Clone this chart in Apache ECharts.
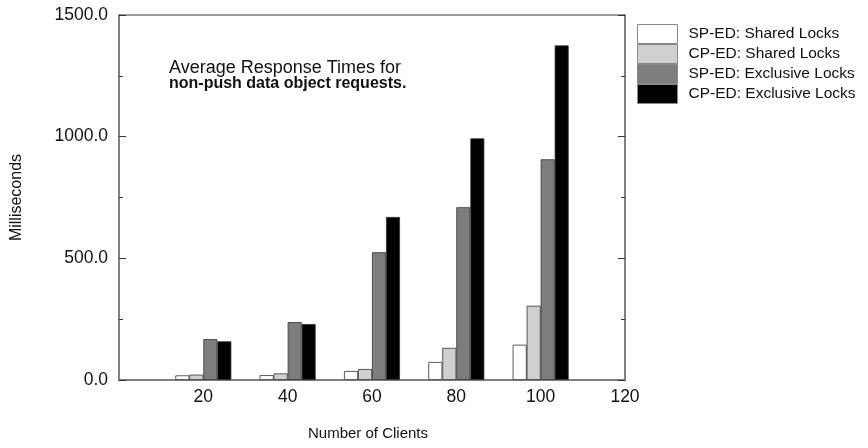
<!DOCTYPE html>
<html>
<head>
<meta charset="utf-8">
<script src="https://cdn.jsdelivr.net/npm/echarts@6/dist/echarts.min.js"></script>
<style>
  html, body { margin: 0; padding: 0; background: #fff; }
  #chart { width: 868px; height: 448px; }
</style>
</head>
<body>
<div id="chart"></div>
<script>
// Number of clients (x positions of the bar groups)
const clients = [20, 40, 60, 80, 100];

// Average response times in milliseconds
const spSharedLocks    = [19, 20, 37, 74, 145];
const cpSharedLocks    = [22, 27, 45, 132, 305];
const spExclusiveLocks = [168, 238, 525, 710, 907];
const cpExclusiveLocks = [159, 230, 670, 993, 1375];

const seriesNames = [
  'SP-ED: Shared Locks',
  'CP-ED: Shared Locks',
  'SP-ED: Exclusive Locks',
  'CP-ED: Exclusive Locks'
];
const seriesColors = ['#ffffff', '#d0d0d0', '#7d7d7d', '#000000'];
const seriesValues = [spSharedLocks, cpSharedLocks, spExclusiveLocks, cpExclusiveLocks];

const FONT = 'Liberation Sans, Arial, Helvetica, sans-serif';
const AXIS_COLOR = '#7a7a7a';

const chart = echarts.init(document.getElementById('chart'), null, { renderer: 'canvas' });

const series = seriesValues.map((vals, i) => ({
  name: seriesNames[i],
  type: 'bar',
  barWidth: 14,
  barGap: '0%',
  itemStyle: { color: seriesColors[i], borderColor: '#333', borderWidth: 0.8 },
  data: clients.map((c, j) => [c, vals[j]])
}));

const yAxisBase = {
  type: 'value',
  min: 0,
  max: 1500,
  interval: 500,
  splitLine: { show: false },
  axisLine: { show: true, lineStyle: { color: AXIS_COLOR, width: 1.5 } },
  axisTick: { show: true, inside: true, length: 7, lineStyle: { color: '#333', width: 1 } },
  minorTick: { show: true, splitNumber: 2, length: 4, lineStyle: { color: '#333', width: 1 } }
};

chart.setOption({
  animation: false,
  textStyle: { fontFamily: FONT },
  grid: {
    left: 119, right: 243, top: 15, bottom: 68,
    show: true, borderColor: AXIS_COLOR, borderWidth: 1.5, backgroundColor: 'transparent'
  },
  legend: {
    orient: 'vertical',
    left: 637,
    top: 24,
    padding: 0,
    itemWidth: 40,
    itemHeight: 19,
    itemGap: 0,
    icon: 'rect',
    textStyle: { fontFamily: FONT, fontSize: 15.5, color: '#111', padding: [0, 0, 0, 6] },
    data: seriesNames.map((n, i) => ({
      name: n,
      itemStyle: { color: seriesColors[i], borderColor: '#888', borderWidth: 1 }
    }))
  },
  xAxis: {
    type: 'value',
    min: 0,
    max: 120,
    interval: 20,
    name: 'Number of Clients',
    nameLocation: 'middle',
    nameGap: 46,
    nameTextStyle: { fontFamily: FONT, fontSize: 15, color: '#111', padding: [0, 8, 0, 0] },
    splitLine: { show: false },
    axisLine: { show: true, lineStyle: { color: AXIS_COLOR, width: 1.5 } },
    axisTick: { show: false },
    axisLabel: {
      fontFamily: FONT, fontSize: 17.5, color: '#111', margin: 8,
      formatter: v => (v === 0 ? '' : String(v))
    }
  },
  yAxis: [
    Object.assign({}, yAxisBase, {
      position: 'left',
      name: 'Milliseconds',
      nameLocation: 'middle',
      nameRotate: 90,
      nameGap: 94,
      nameTextStyle: { fontFamily: FONT, fontSize: 16, color: '#111' },
      axisLabel: {
        fontFamily: FONT, fontSize: 17.5, color: '#111', margin: 11,
        formatter: v => v.toFixed(1)
      }
    }),
    Object.assign({}, yAxisBase, {
      position: 'right',
      axisLabel: { show: false }
    })
  ],
  graphic: [
    {
      type: 'text', x: 169, y: 59,
      style: { text: 'Average Response Times for', font: '18px ' + FONT, fill: '#111' }
    },
    {
      type: 'text', x: 169, y: 76,
      style: { text: 'non-push data object requests.', font: 'bold 16px ' + FONT, fill: '#111' }
    }
  ],
  series: series
});
</script>
</body>
</html>
